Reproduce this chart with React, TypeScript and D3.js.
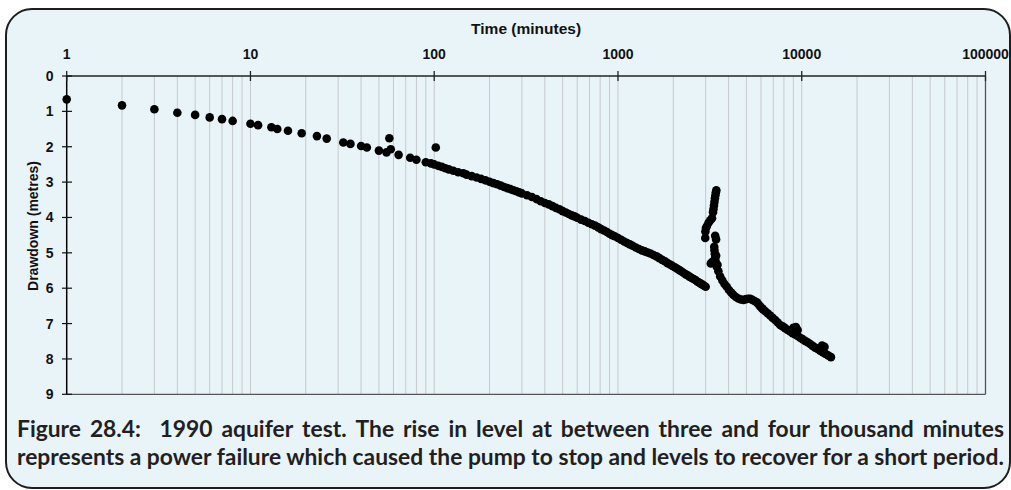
import React, { useEffect, useRef } from "react";
import * as d3 from "d3";

// ---- Axis ticks ----
const xTickValues = [1, 10, 100, 1000, 10000, 100000];
const xTickLabels = ["1", "10", "100", "1000", "10000", "100000"];
const yTickValues = [0, 1, 2, 3, 4, 5, 6, 7, 8, 9];

// ---- Early readings (minutes, drawdown m) ----
const earlyTimes = [1, 2, 3, 4, 5, 6, 7, 8, 10, 11, 13, 14, 16, 19, 23, 26, 32, 35, 40, 43, 50, 55, 57, 58, 64, 74, 80, 90, 96, 102];
const earlyDrawdown = [0.66, 0.83, 0.94, 1.04, 1.1, 1.17, 1.22, 1.27, 1.35, 1.39, 1.45, 1.5, 1.55, 1.62, 1.7, 1.77, 1.88, 1.92, 1.98, 2.02, 2.11, 2.16, 1.76, 2.07, 2.23, 2.31, 2.37, 2.44, 2.47, 2.02];

// ---- Main pumping period ----
const mainTimes = [100, 105, 110, 115, 120, 127, 135, 144, 150, 160, 170, 180, 190, 200, 210, 220, 230, 240, 250, 260, 270, 280, 290, 300, 320, 340, 360, 380, 400, 420, 440, 460, 480, 500, 520, 540, 560, 580, 600, 630, 660, 690, 720, 750, 780, 810, 840, 870, 900, 930, 960, 1000, 1040, 1080, 1120, 1160, 1200, 1250, 1300, 1350, 1400, 1450, 1500, 1560, 1620, 1680, 1740, 1800, 1860, 1920, 1980, 2040, 2100, 2160, 2220, 2280, 2340, 2400, 2460, 2520, 2580, 2640, 2700, 2760, 2820, 2880, 2940, 3000];
const mainDrawdown = [2.5, 2.54, 2.57, 2.61, 2.64, 2.68, 2.72, 2.75, 2.79, 2.83, 2.87, 2.91, 2.95, 2.99, 3.03, 3.06, 3.1, 3.14, 3.17, 3.2, 3.23, 3.26, 3.29, 3.32, 3.37, 3.42, 3.48, 3.54, 3.59, 3.63, 3.68, 3.73, 3.77, 3.82, 3.86, 3.9, 3.94, 3.97, 4.01, 4.06, 4.1, 4.15, 4.19, 4.23, 4.28, 4.33, 4.37, 4.41, 4.46, 4.5, 4.53, 4.58, 4.63, 4.68, 4.72, 4.76, 4.8, 4.85, 4.89, 4.93, 4.96, 4.99, 5.02, 5.06, 5.1, 5.15, 5.2, 5.24, 5.29, 5.33, 5.37, 5.41, 5.45, 5.49, 5.53, 5.57, 5.61, 5.64, 5.68, 5.71, 5.74, 5.77, 5.81, 5.84, 5.87, 5.9, 5.93, 5.96];

// ---- Power failure and recovery ----
const failureTimes = [2985, 2990, 3010, 3050, 3110, 3180, 3250, 3290, 3310, 3330, 3350, 3370, 3390, 3410, 3430, 3380, 3420, 3340, 3350, 3365, 3380, 3420, 3390, 3200, 3250, 3480];
const failureDrawdown = [4.58, 4.4, 4.3, 4.24, 4.15, 4.08, 4.02, 3.85, 3.76, 3.66, 3.56, 3.46, 3.37, 3.29, 3.23, 4.52, 4.62, 4.83, 4.93, 5.03, 5.13, 5.08, 5.22, 5.3, 5.26, 5.34];

// ---- Pumping resumed ----
const lateTimes = [3450, 3520, 3600, 3700, 3800, 3910, 4020, 4130, 4250, 4380, 4520, 4660, 4820, 4980, 5110, 5240, 5380, 5540, 5700, 5830, 5950, 6080, 6170, 6330, 6520, 6730, 6950, 7170, 7400, 7630, 7870, 8120, 8380, 8650, 8920, 9000, 9200, 9300, 9500, 9500, 9800, 10100, 10430, 10760, 11110, 11460, 11830, 12200, 12590, 12900, 13000, 13300, 13400, 13900, 14420];
const lateDrawdown = [5.39, 5.52, 5.67, 5.78, 5.88, 5.96, 6.05, 6.12, 6.19, 6.25, 6.29, 6.32, 6.33, 6.31, 6.3, 6.3, 6.33, 6.36, 6.4, 6.46, 6.52, 6.57, 6.6, 6.65, 6.71, 6.77, 6.84, 6.9, 6.97, 7.04, 7.08, 7.13, 7.18, 7.22, 7.27, 7.12, 7.31, 7.1, 7.35, 7.18, 7.4, 7.44, 7.49, 7.53, 7.58, 7.63, 7.68, 7.72, 7.77, 7.62, 7.81, 7.66, 7.85, 7.9, 7.95];

const xTitle = "Time (minutes)";
const yTitle = "Drawdown (metres)";
const captionLine1 = ["Figure", "28.4:", "1990", "aquifer", "test.", "The", "rise", "in", "level", "at", "between", "three", "and", "four", "thousand", "minutes"];
const captionLine2 = "represents a power failure which caused the pump to stop and levels to recover for a short period.";

export default function App() {
  const ref = useRef<SVGSVGElement>(null);

  useEffect(() => {
    const svg = d3.select(ref.current as SVGSVGElement);
    svg.selectAll("*").remove();

    const left = 66.7, right = 985.5, top = 76, bottom = 394.3;
    const x = d3.scaleLog().domain([1, 100000]).range([left, right]);
    const y = d3.scaleLinear().domain([0, 9]).range([top, bottom]);

    // background panel
    svg.append("rect")
      .attr("x", 6).attr("y", 9).attr("width", 1004).attr("height", 479)
      .attr("rx", 26).attr("ry", 26)
      .attr("fill", "#e9f4f9").attr("stroke", "#1e1e1e").attr("stroke-width", 2);

    // vertical grid lines
    const gridVals = x.ticks().filter((v) => v > 1 && v < 100000);
    svg.append("g").selectAll("line").data(gridVals).join("line")
      .attr("x1", (d) => x(d)).attr("x2", (d) => x(d))
      .attr("y1", top).attr("y2", bottom)
      .attr("stroke", "#c6c9cb").attr("stroke-width", 1);

    // frame
    svg.append("line").attr("x1", left).attr("x2", right).attr("y1", bottom).attr("y2", bottom).attr("stroke", "#555").attr("stroke-width", 1.3);
    svg.append("line").attr("x1", right).attr("x2", right).attr("y1", top).attr("y2", bottom).attr("stroke", "#555").attr("stroke-width", 1.3);
    svg.append("line").attr("x1", left).attr("x2", right).attr("y1", top).attr("y2", top).attr("stroke", "#222").attr("stroke-width", 1.4);
    svg.append("line").attr("x1", left).attr("x2", left).attr("y1", top).attr("y2", bottom).attr("stroke", "#000").attr("stroke-width", 1.5);

    const axisFont = "'Liberation Sans', Arial, sans-serif";

    // x ticks + labels (top)
    const gx = svg.append("g");
    gx.selectAll("line").data(xTickValues).join("line")
      .attr("x1", (d) => x(d)).attr("x2", (d) => x(d))
      .attr("y1", 71).attr("y2", 81)
      .attr("stroke", "#222").attr("stroke-width", 1.3);
    gx.selectAll("text").data(xTickValues).join("text")
      .attr("x", (d) => x(d)).attr("y", 59.3)
      .attr("text-anchor", "middle")
      .attr("font-family", axisFont).attr("font-weight", "bold").attr("font-size", 14)
      .attr("fill", "#111")
      .text((d, i) => xTickLabels[i]);

    // y ticks + labels
    const gy = svg.append("g");
    gy.selectAll("line").data(yTickValues).join("line")
      .attr("x1", 62).attr("x2", 72)
      .attr("y1", (d) => y(d)).attr("y2", (d) => y(d))
      .attr("stroke", "#111").attr("stroke-width", 1.2);
    gy.selectAll("text").data(yTickValues).join("text")
      .attr("x", 53.5).attr("y", (d) => y(d) + 5)
      .attr("text-anchor", "end")
      .attr("font-family", axisFont).attr("font-weight", "bold").attr("font-size", 14)
      .attr("fill", "#111")
      .text((d) => String(d));

    // axis titles
    svg.append("text")
      .attr("x", (left + right) / 2).attr("y", 34)
      .attr("text-anchor", "middle")
      .attr("font-family", axisFont).attr("font-weight", "bold").attr("font-size", 15.5)
      .attr("fill", "#111").text(xTitle);
    svg.append("text")
      .attr("transform", "translate(37.5,226) rotate(-90)")
      .attr("text-anchor", "middle")
      .attr("font-family", axisFont).attr("font-weight", "bold").attr("font-size", 14)
      .attr("fill", "#111").text(yTitle);

    // data points
    const series: [number[], number[]][] = [
      [earlyTimes, earlyDrawdown],
      [mainTimes, mainDrawdown],
      [failureTimes, failureDrawdown],
      [lateTimes, lateDrawdown],
    ];
    const pts: { t: number; d: number }[] = [];
    series.forEach(([ts, ds]) => ts.forEach((t, i) => pts.push({ t, d: ds[i] })));
    svg.append("g").selectAll("circle").data(pts).join("circle")
      .attr("cx", (p) => x(p.t)).attr("cy", (p) => y(p.d))
      .attr("r", 4.3).attr("fill", "#000");

    // caption
    const capFont = "Lato, Roboto, 'Open Sans', sans-serif";
    const capLeft = 17, capRight = 1004;
    const capWidth = capRight - capLeft;
    const probe = svg.append("text")
      .attr("font-family", capFont).attr("font-weight", 700).attr("font-size", 20)
      .text(captionLine2);
    const w2 = (probe.node() as SVGTextElement).getComputedTextLength();
    probe.remove();
    const fs = (20 * capWidth) / w2;

    svg.append("text")
      .attr("x", capLeft).attr("y", 465)
      .attr("font-family", capFont).attr("font-weight", 700).attr("font-size", fs)
      .attr("fill", "#231f20").text(captionLine2);

    const g1 = svg.append("g");
    const words = captionLine1.map((wd) =>
      g1.append("text")
        .attr("y", 437)
        .attr("font-family", capFont).attr("font-weight", 700).attr("font-size", fs)
        .attr("fill", "#231f20").text(wd)
    );
    const widths = words.map((t) => (t.node() as SVGTextElement).getComputedTextLength());
    const weights = captionLine1.slice(1).map((_, i) => (i === 1 ? 2.1 : 1));
    const totalW = d3.sum(widths);
    const gap = (capWidth - totalW) / d3.sum(weights);
    let cx = capLeft;
    words.forEach((t, i) => {
      t.attr("x", cx);
      cx += widths[i] + (i < weights.length ? weights[i] * gap : 0);
    });
  }, []);

  return (
    <div style={{ position: "absolute", left: 0, top: 0, width: 1011, height: 490 }}>
      <svg ref={ref} width={1011} height={490} style={{ display: "block" }} />
    </div>
  );
}
